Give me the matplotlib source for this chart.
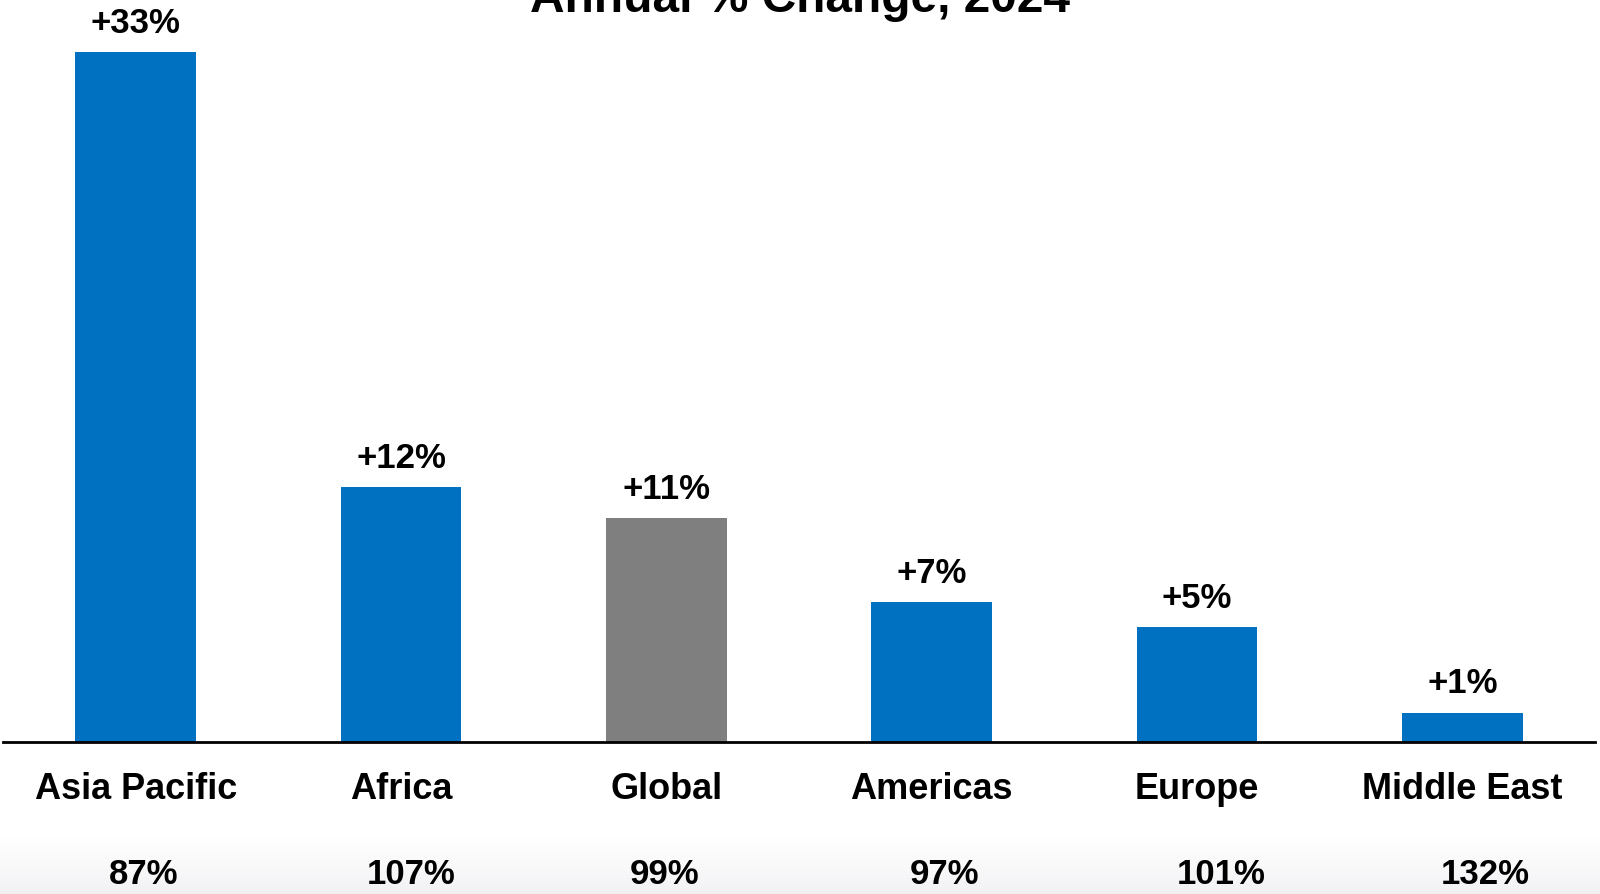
import numpy as np
import matplotlib
matplotlib.use("Agg")
import matplotlib.pyplot as plt
from matplotlib.transforms import blended_transform_factory

# data
regions = ["Asia Pacific", "Africa", "Global", "Americas", "Europe", "Middle East"]
change = [33.0, 12.2, 10.7, 6.7, 5.5, 1.4]
change_labels = ["+33%", "+12%", "+11%", "+7%", "+5%", "+1%"]
bottom_labels = ["87%", "107%", "99%", "97%", "101%", "132%"]
bottom_shift = [0.03, 0.04, -0.005, 0.05, 0.09, 0.085]  # small offsets as in the slide

blue = "#0070C0"
grey = "#7F7F7F"
colors = [grey if r == "Global" else blue for r in regions]

plt.rcParams["font.family"] = ["Liberation Sans", "DejaVu Sans"]
plt.rcParams["font.weight"] = "bold"

fig = plt.figure(figsize=(16, 8.94), dpi=100)

# faint grey fade at the very bottom of the slide
bg = fig.add_axes([0, 0, 1, 0.065], zorder=-1)
grad = np.linspace(0, 1, 100).reshape(-1, 1) ** 0.7
bg.imshow(grad, aspect="auto", cmap=matplotlib.colors.LinearSegmentedColormap.from_list(
    "g", ["#f0f0f3", "#ffffff"]), origin="lower", extent=[0, 1, 0, 1])
bg.axis("off")

ax = fig.add_axes([3 / 1600, 1 - 742 / 894, 1592 / 1600, 742 / 894])
ax.patch.set_alpha(0)
x = np.arange(len(regions))
bars = ax.bar(x, change, width=0.454, color=colors)
ax.set_xlim(-0.5, len(regions) - 0.5)
ax.set_ylim(0, 35.5)

for b, lab in zip(bars, change_labels):
    ax.annotate(lab, (b.get_x() + b.get_width() / 2, b.get_height()),
                xytext=(0, 14), textcoords="offset points",
                ha="center", va="baseline", fontsize=25, fontweight="bold")

for s in ["top", "right", "left"]:
    ax.spines[s].set_visible(False)
ax.spines["bottom"].set_linewidth(2)
ax.set_yticks([])
ax.set_xticks([])

trans = blended_transform_factory(ax.transData, fig.transFigure)
for i, r in enumerate(regions):
    ax.text(i, 1 - 799 / 894, r, transform=trans, ha="center", va="baseline",
            fontsize=26, fontweight="bold")
    ax.text(i + bottom_shift[i], 1 - 884 / 894, bottom_labels[i], transform=trans,
            ha="center", va="baseline", fontsize=25, fontweight="bold")

fig.text(0.5, 1 - 12 / 894, "Annual % Change, 2024", ha="center", va="baseline",
         fontsize=34.5, fontweight="bold")

fig.savefig("out.png", dpi=100)
